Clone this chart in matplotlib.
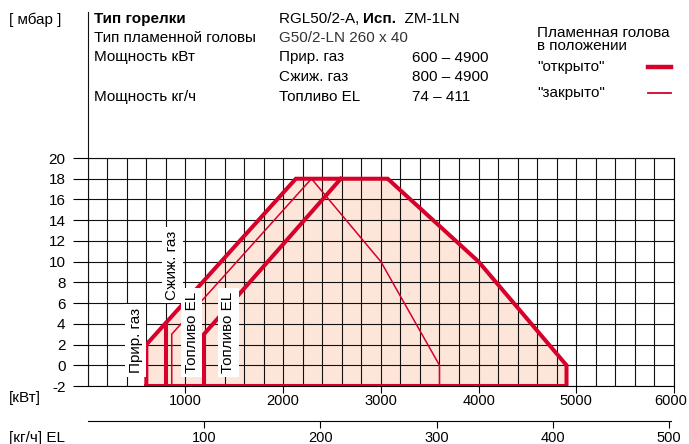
import numpy as np
import matplotlib
matplotlib.use("Agg")
import matplotlib.pyplot as plt
import matplotlib.transforms as mtransforms
from matplotlib.lines import Line2D

plt.rcParams['font.family'] = ['Liberation Sans', 'DejaVu Sans']
plt.rcParams['axes.unicode_minus'] = False

# working field, flame head "open" (thick) and "closed" (thin)
open_kw = [600, 600, 2130, 3070, 4000, 4900, 4900, 600]
open_mbar = [-2, 2, 18, 18, 10, 0, -2, -2]
lpg_open_kw = [800, 800]
lpg_open_mbar = [-2, 4]
oil_open_kw = [1190, 1190, 2590]
oil_open_mbar = [-2, 3, 18]
closed_kw = [860, 860, 2290, 3000, 3600, 3600]
closed_mbar = [-2, 3, 18, 10, 0, -2]

# vertical labels (kW, mbar of lower end)
label_text = ["Прир. газ", "Сжиж. газ", "Топливо EL", "Топливо EL"]
label_kw = [490, 864, 1063, 1437]
label_mbar = [-0.75, 6.3, -0.75, -0.75]

kw_ticks = [1000, 2000, 3000, 4000, 5000, 6000]
kgh_ticks = [100, 200, 300, 400, 500]
mbar_ticks = list(range(-2, 21, 2))

red = '#d6002b'
fill = '#fde5da'
W, H = 689, 444
fs = 11

fig = plt.figure(figsize=(6.89, 4.44), dpi=100)

def fx(px):
    return px / W

def fy(py):
    return 1 - py / H

ax = fig.add_axes([fx(87.7), fy(386), (674 - 87.7) / W, (386 - 158) / H])
ax.set_xlim(0, 6000)
ax.set_ylim(-2, 20)

ax.fill(open_kw, open_mbar, color=fill, zorder=1, lw=0)
ax.set_xticks(np.arange(0, 6001, 200), minor=True)
ax.set_xticks(kw_ticks)
ax.set_yticks(mbar_ticks)
ax.grid(which='both', color='#111111', lw=0.8, zorder=2)
ax.set_axisbelow(False)
ax.tick_params(axis='x', which='minor', length=0)
ax.tick_params(axis='x', which='major', length=5, width=0.8, pad=1, labelsize=10.5)
ax.tick_params(axis='y', length=11, width=0.8, pad=5, labelsize=fs)
for s in ax.spines.values():
    s.set_linewidth(0.8)
# keep "6000" inside the picture
last = ax.get_xticklabels()[-1]
last.set_transform(last.get_transform() + mtransforms.ScaledTranslation(-3 / 100, 0, fig.dpi_scale_trans))

ax.plot(open_kw, open_mbar, color=red, lw=2.9, zorder=4, solid_joinstyle='miter')
ax.plot(lpg_open_kw, lpg_open_mbar, color=red, lw=2.9, zorder=4)
ax.plot(oil_open_kw, oil_open_mbar, color=red, lw=2.9, zorder=4, solid_joinstyle='miter')
ax.plot(closed_kw, closed_mbar, color=red, lw=1.1, zorder=4)

for t, x, y in zip(label_text, label_kw, label_mbar):
    ax.text(x, y, t, rotation=90, ha='center', va='bottom', fontsize=fs, zorder=6,
            bbox=dict(facecolor='white', edgecolor='none', pad=2.5))

# second scale, kg/h oil
ax2 = fig.add_axes([fx(87.75), fy(421), (671 - 87.75) / W, 0.0001])
ax2.set_xlim(0, 501.7)
ax2.set_yticks([])
for k in ['top', 'left', 'right']:
    ax2.spines[k].set_visible(False)
ax2.spines['bottom'].set_linewidth(0.8)
ax2.set_xticks(kgh_ticks)
ax2.tick_params(axis='x', length=5, width=0.8, pad=2, labelsize=10.5)
ax2.patch.set_visible(False)

# left rule running up to the header
fig.add_artist(Line2D([fx(88), fx(88)], [fy(12), fy(158)], color='#111111', lw=0.8))

fig.text(fx(9), fy(20), "[ мбар ]", fontsize=fs, va='center')
fig.text(fx(9), fy(398), "[кВт]", fontsize=fs, va='center')
fig.text(fx(9), fy(438), "[кг/ч] EL", fontsize=fs, va='center')

col1, col2, col3 = 94, 279, 412
rows = [19, 38, 57.5, 77, 96.5]
fig.text(fx(col1), fy(rows[0]), "Тип горелки", fontsize=fs, weight='bold', va='center')

# burner model line: mixed weights, placed one after the other
renderer = fig.canvas.get_renderer()
xpos = col2
for part, wt in [("RGL50/2-A, ", 'normal'), ("Исп.", 'bold'), ("  ZM-1LN", 'normal')]:
    tx = fig.text(fx(xpos), fy(rows[0]), part, fontsize=fs, weight=wt, va='center')
    xpos += tx.get_window_extent(renderer).width

fig.text(fx(col1), fy(rows[1]), "Тип пламенной головы", fontsize=fs, va='center')
fig.text(fx(col2), fy(rows[1]), "G50/2-LN 260 x 40", fontsize=fs, va='center', color='#333333')
fig.text(fx(col1), fy(rows[2]), "Мощность кВт", fontsize=fs, va='center')
fig.text(fx(col2), fy(rows[2]), "Прир. газ", fontsize=fs, va='center')
fig.text(fx(col3), fy(rows[2]), "600 – 4900", fontsize=fs, va='center')
fig.text(fx(col2), fy(rows[3]), "Сжиж. газ", fontsize=fs, va='center')
fig.text(fx(col3), fy(rows[3]), "800 – 4900", fontsize=fs, va='center')
fig.text(fx(col1), fy(rows[4]), "Мощность кг/ч", fontsize=fs, va='center')
fig.text(fx(col2), fy(rows[4]), "Топливо EL", fontsize=fs, va='center')
fig.text(fx(col3), fy(rows[4]), "74 – 411", fontsize=fs, va='center')

# legend block
fig.text(fx(537), fy(33), "Пламенная голова", fontsize=fs, va='center')
fig.text(fx(537), fy(46), "в положении", fontsize=fs, va='center')
fig.text(fx(537), fy(67), "\"открыто\"", fontsize=fs, va='center')
fig.text(fx(537), fy(93), "\"закрыто\"", fontsize=fs, va='center')
fig.add_artist(Line2D([fx(648), fx(671)], [fy(67), fy(67)], color=red, lw=3.2))
fig.add_artist(Line2D([fx(648), fx(671)], [fy(93), fy(93)], color=red, lw=1.3))

fig.savefig("out.png", dpi=100)
